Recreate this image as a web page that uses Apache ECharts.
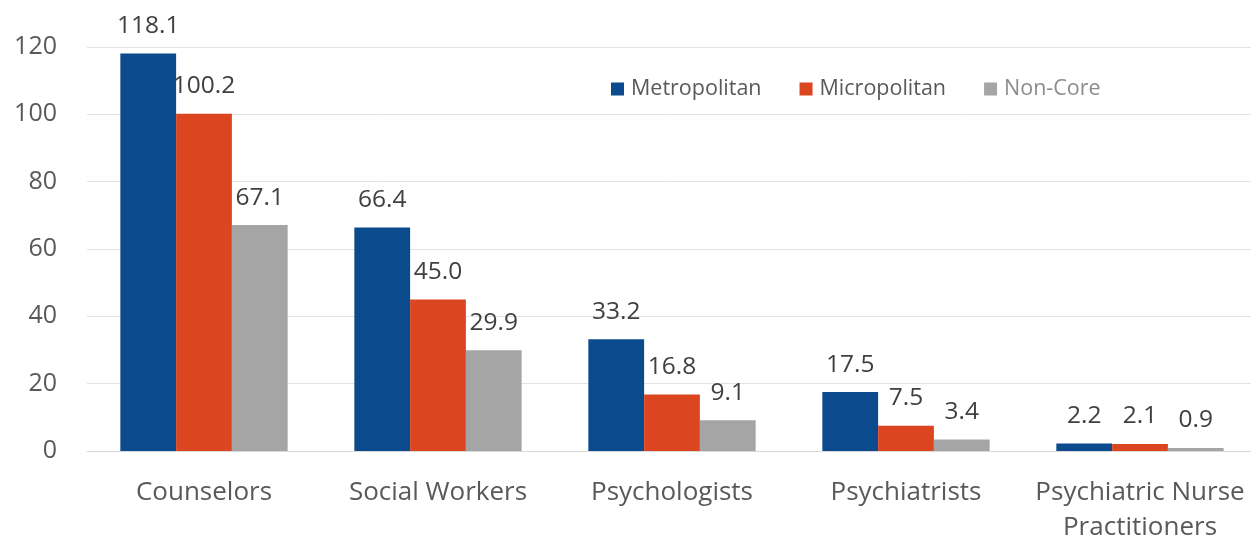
<!DOCTYPE html>
<html>
<head>
<meta charset="utf-8">
<script src="https://cdn.jsdelivr.net/npm/echarts@6/dist/echarts.min.js"></script>
<style>
html,body{margin:0;padding:0;background:#fff;}
#chart{width:1251px;height:539px;}
</style>
</head>
<body>
<div id="chart"></div>
<script>
const categories = ['Counselors', 'Social Workers', 'Psychologists', 'Psychiatrists', 'Psychiatric Nurse\nPractitioners'];
const metropolitan = [118.1, 66.4, 33.2, 17.5, 2.2];
const micropolitan = [100.2, 45.0, 16.8, 7.5, 2.1];
const nonCore = [67.1, 29.9, 9.1, 3.4, 0.9];
const yTicks = { min: 0, max: 120, interval: 20 };

const FONT = '"Open Sans", "Noto Sans", sans-serif';
const labelCfg = {
  show: true,
  position: 'top',
  distance: 15,
  fontFamily: FONT,
  fontSize: 24.5,
  color: '#404040',
  formatter: p => p.value.toFixed(1)
};

const chart = echarts.init(document.getElementById('chart'), null, { renderer: 'canvas' });
chart.setOption({
  animation: false,
  backgroundColor: '#ffffff',
  textStyle: { fontFamily: FONT },
  grid: { left: 87, top: 47, width: 1170, height: 404, containLabel: false, outerBoundsMode: 'none' },
  legend: {
    left: 606,
    top: 73,
    itemWidth: 13,
    itemHeight: 13,
    itemGap: 38,
    icon: 'rect',
    textStyle: { fontFamily: FONT, fontSize: 21.5, color: '#595959', padding: [0, 0, 0, 2] },
    data: [
      { name: 'Metropolitan' },
      { name: 'Micropolitan' },
      { name: 'Non-Core', textStyle: { color: '#8c8c8c' } }
    ]
  },
  xAxis: {
    type: 'category',
    data: categories,
    axisLine: { show: true, lineStyle: { color: '#d9d9d9', width: 1 } },
    axisTick: { show: false },
    axisLabel: {
      fontFamily: FONT,
      fontSize: 26,
      color: '#595959',
      margin: 24,
      lineHeight: 35,
      interval: 0
    }
  },
  yAxis: {
    type: 'value',
    min: yTicks.min,
    max: yTicks.max,
    interval: yTicks.interval,
    axisLine: { show: false },
    axisTick: { show: false },
    splitLine: { lineStyle: { color: '#e3e3e3', width: 1 } },
    axisLabel: { fontFamily: FONT, fontSize: 25, color: '#595959', margin: 30 }
  },
  series: [
    { name: 'Metropolitan', type: 'bar', data: metropolitan, barGap: '0%', barCategoryGap: '28.5%',
      itemStyle: { color: '#0b4a8c' }, label: labelCfg },
    { name: 'Micropolitan', type: 'bar', data: micropolitan, barGap: '0%', barCategoryGap: '28.5%',
      itemStyle: { color: '#db4520' }, label: labelCfg },
    { name: 'Non-Core', type: 'bar', data: nonCore, barGap: '0%', barCategoryGap: '28.5%',
      itemStyle: { color: '#a5a5a5' }, label: labelCfg }
  ]
});
</script>
</body>
</html>
